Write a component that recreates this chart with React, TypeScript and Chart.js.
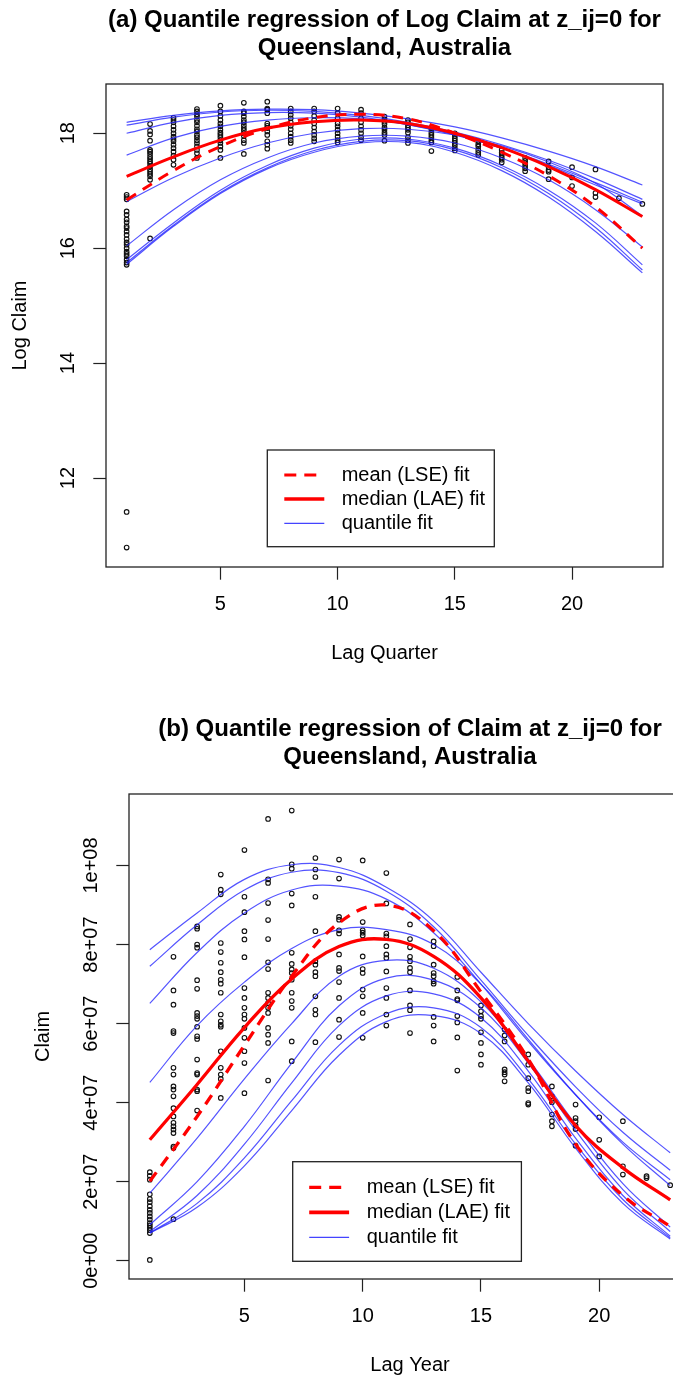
import React, { useEffect, useRef } from "react";
import { Chart, registerables } from "chart.js";

Chart.register(...registerables);

const FONT = "'Liberation Sans', Arial, Helvetica, sans-serif";
const RED = "#ff0000";
const BLUE = "rgba(35, 35, 255, 0.78)";

// ================= Panel (a): Log Claim vs Lag Quarter =================
const titleA = ["(a) Quantile regression of Log Claim at z_ij=0 for", "Queensland, Australia"];
const lagQuarterTicks = [5, 10, 15, 20];
const logClaimTicks = [12, 14, 16, 18];
const logClaimTickLabels = ["12", "14", "16", "18"];

// observed log claims, one list per lag quarter 1..23
const logClaimByLagQuarter: number[][] = [
  [16.93, 16.89, 16.85, 16.64, 16.58, 16.5, 16.45, 16.38, 16.35, 16.29, 16.23, 16.16, 16.1, 16.06, 16.0, 15.94, 15.9, 15.86, 15.8, 15.75, 15.71, 11.41, 10.79],
  [18.16, 18.04, 17.98, 17.87, 17.71, 17.68, 17.64, 17.59, 17.55, 17.51, 17.47, 17.42, 17.37, 17.33, 17.29, 17.25, 17.19, 16.17],
  [18.27, 18.23, 18.19, 18.12, 18.06, 18.0, 17.94, 17.9, 17.86, 17.8, 17.74, 17.68, 17.61, 17.54, 17.45],
  [18.42, 18.38, 18.33, 18.29, 18.23, 18.19, 18.13, 18.07, 18.03, 17.97, 17.93, 17.88, 17.83, 17.77, 17.71, 17.65, 17.57],
  [18.48, 18.38, 18.3, 18.23, 18.17, 18.12, 18.06, 18.01, 17.97, 17.93, 17.88, 17.83, 17.77, 17.71, 17.57],
  [18.53, 18.38, 18.35, 18.29, 18.23, 18.19, 18.14, 18.09, 18.05, 18.0, 17.95, 17.88, 17.83, 17.64],
  [18.55, 18.43, 18.41, 18.35, 18.17, 18.13, 18.09, 18.03, 17.97, 17.86, 17.8, 17.73],
  [18.43, 18.38, 18.32, 18.26, 18.19, 18.13, 18.07, 18.0, 17.94, 17.88, 17.83],
  [18.43, 18.38, 18.3, 18.23, 18.17, 18.1, 18.03, 17.97, 17.91, 17.86],
  [18.43, 18.35, 18.26, 18.17, 18.12, 18.06, 18.0, 17.94, 17.88, 17.84],
  [18.41, 18.35, 18.26, 18.19, 18.12, 18.06, 18.0, 17.93, 17.88],
  [18.29, 18.24, 18.2, 18.16, 18.1, 18.06, 18.01, 17.97, 17.87],
  [18.23, 18.19, 18.14, 18.1, 18.06, 18.01, 17.93, 17.88, 17.83],
  [18.1, 18.06, 18.01, 17.97, 17.93, 17.88, 17.84, 17.69],
  [18.0, 17.95, 17.91, 17.87, 17.83, 17.79, 17.74, 17.7],
  [17.86, 17.81, 17.77, 17.71, 17.66, 17.62],
  [17.71, 17.66, 17.62, 17.58, 17.54, 17.49],
  [17.57, 17.52, 17.48, 17.43, 17.39, 17.34],
  [17.51, 17.41, 17.36, 17.33, 17.2],
  [17.41, 17.23, 17.08],
  [17.37, 16.96, 16.89],
  [16.87],
  [16.77],
];

const fitLagQuarter = [1, 3, 5, 7, 9, 11, 13, 15, 17, 19, 21, 23];
const meanFitLogClaim = [16.84, 17.35, 17.77, 18.08, 18.27, 18.33, 18.25, 18.0, 17.67, 17.26, 16.72, 16.0];
const medianFitLogClaim = [17.25, 17.59, 17.88, 18.09, 18.2, 18.23, 18.17, 18.0, 17.75, 17.42, 17.02, 16.55];
const q10LogClaim = [15.72, 16.38, 16.95, 17.38, 17.67, 17.83, 17.84, 17.67, 17.35, 16.89, 16.29, 15.57];
const q20LogClaim = [15.75, 16.4, 16.97, 17.4, 17.7, 17.86, 17.87, 17.71, 17.4, 16.95, 16.36, 15.62];
const q30LogClaim = [15.8, 16.44, 17.01, 17.44, 17.74, 17.9, 17.9, 17.74, 17.44, 17.01, 16.44, 15.71];
const q40LogClaim = [16.04, 16.67, 17.19, 17.57, 17.83, 17.95, 17.95, 17.83, 17.57, 17.19, 16.67, 16.02];
const q50LogClaim = [16.81, 17.23, 17.57, 17.83, 18.0, 18.08, 18.07, 17.97, 17.78, 17.5, 17.13, 16.56];
const q60LogClaim = [17.62, 17.92, 18.12, 18.23, 18.27, 18.25, 18.15, 17.98, 17.74, 17.44, 17.1, 16.77];
const q70LogClaim = [18.0, 18.19, 18.31, 18.36, 18.35, 18.28, 18.15, 17.97, 17.74, 17.46, 17.14, 16.8];
const q80LogClaim = [18.14, 18.28, 18.37, 18.4, 18.38, 18.31, 18.19, 18.02, 17.8, 17.53, 17.21, 16.85];
const q90LogClaim = [18.19, 18.31, 18.39, 18.42, 18.41, 18.35, 18.25, 18.11, 17.92, 17.69, 17.42, 17.1];

// ================= Panel (b): Claim vs Lag Year =================
const titleB = ["(b) Quantile regression of Claim at z_ij=0 for", "Queensland, Australia"];
const lagYearTicks = [5, 10, 15, 20];
const claimTicks = [0, 2e7, 4e7, 6e7, 8e7, 1e8];
const claimTickLabels = ["0e+00", "2e+07", "4e+07", "6e+07", "8e+07", "1e+08"];
const MILLION = 1e6;

// observed claims in millions, one list per lag year 1..23
const claimMillionsByLagYear: number[][] = [
  [22.4, 21.5, 20.5, 16.8, 15.6, 14.8, 13.8, 12.9, 12.1, 11.2, 10.4, 9.5, 8.9, 8.3, 7.7, 7.0, 0.2],
  [76.9, 68.4, 64.8, 58.1, 57.6, 48.8, 47.1, 44.1, 43.3, 41.6, 38.6, 36.5, 34.9, 34.0, 33.2, 32.3, 28.9, 28.5, 10.5],
  [84.6, 84.0, 80.0, 79.2, 71.0, 68.8, 62.7, 61.9, 61.2, 59.2, 56.8, 56.1, 50.9, 47.5, 47.1, 43.3, 42.9, 38.0],
  [97.7, 93.9, 92.7, 80.4, 78.1, 75.4, 73.0, 71.1, 70.1, 67.8, 62.3, 60.6, 59.7, 59.2, 53.0, 48.8, 47.1, 46.0, 41.2],
  [103.9, 92.1, 88.2, 83.4, 81.3, 76.8, 69.0, 66.5, 64.0, 62.3, 61.2, 58.9, 56.4, 53.0, 50.0, 42.4],
  [111.8, 96.5, 95.6, 90.5, 86.2, 81.4, 75.5, 73.8, 67.8, 66.5, 65.2, 64.0, 62.7, 58.9, 57.2, 55.1, 45.6],
  [113.9, 100.3, 99.2, 92.9, 89.9, 77.9, 75.1, 73.7, 72.8, 71.1, 67.8, 65.7, 64.0, 55.5, 50.5],
  [101.9, 99.0, 97.1, 92.1, 83.4, 75.8, 74.9, 73.0, 72.0, 66.9, 63.5, 62.3, 55.3],
  [101.5, 96.7, 87.0, 86.3, 83.6, 82.8, 77.5, 74.1, 73.3, 70.5, 66.5, 61.0, 56.6],
  [101.3, 85.7, 83.6, 83.0, 82.3, 77.0, 73.8, 72.8, 68.6, 66.9, 62.7, 56.4],
  [98.1, 90.4, 82.8, 82.1, 79.6, 77.5, 76.6, 73.2, 69.0, 66.5, 62.3, 59.5],
  [85.1, 81.4, 79.3, 76.9, 75.8, 74.1, 73.0, 68.4, 64.6, 63.4, 57.6],
  [80.8, 79.6, 74.9, 72.8, 72.0, 70.7, 70.1, 61.7, 59.5, 55.5],
  [71.8, 68.4, 66.2, 65.9, 61.9, 60.3, 56.5, 48.1],
  [64.6, 63.1, 61.9, 61.2, 57.8, 55.1, 52.2, 49.6],
  [58.5, 57.0, 55.5, 48.4, 47.7, 47.1, 45.4],
  [52.2, 49.6, 46.2, 43.7, 42.9, 39.9, 39.5],
  [44.1, 41.6, 40.1, 37.0, 35.3, 34.0],
  [39.5, 36.1, 35.3, 34.2, 33.3, 29.1],
  [36.3, 30.6, 26.4],
  [35.3, 23.9, 21.8],
  [21.4, 20.9],
  [19.1],
];

const fitLagYear = [1, 3, 5, 7, 9, 11, 13, 15, 17, 19, 21, 23];
const meanFitClaimM = [20.1, 36.5, 54.5, 72.0, 85.5, 90.0, 83.5, 68.0, 51.0, 29.5, 16.5, 8.7];
const medianFitClaimM = [30.6, 44.6, 59.0, 71.3, 79.5, 81.3, 77.0, 66.5, 50.5, 34.2, 23.5, 15.4];
const q10ClaimM = [7.0, 13.5, 24.0, 38.0, 52.0, 60.5, 62.0, 57.5, 45.0, 28.5, 14.5, 5.5];
const q20ClaimM = [7.0, 14.5, 26.0, 40.5, 54.5, 62.5, 64.0, 59.0, 46.0, 29.5, 15.5, 5.8];
const q30ClaimM = [7.4, 16.5, 29.5, 45.0, 59.5, 67.0, 67.5, 61.5, 48.0, 31.0, 16.5, 6.2];
const q40ClaimM = [9.1, 20.0, 34.0, 50.0, 64.5, 71.5, 71.0, 64.0, 50.0, 33.0, 18.0, 7.4];
const q50ClaimM = [17.1, 31.0, 46.0, 60.0, 72.0, 76.0, 74.0, 65.5, 51.0, 34.5, 19.5, 8.5];
const q60ClaimM = [45.1, 59.5, 70.5, 79.0, 83.8, 83.8, 80.0, 70.0, 56.0, 42.0, 29.5, 19.0];
const q70ClaimM = [65.1, 78.0, 88.0, 93.8, 94.8, 91.5, 83.0, 70.0, 55.5, 42.0, 30.0, 20.5];
const q80ClaimM = [74.5, 85.0, 93.8, 98.3, 98.2, 93.5, 84.5, 71.0, 57.0, 44.0, 32.5, 22.9];
const q90ClaimM = [78.7, 88.0, 96.5, 100.2, 99.5, 94.5, 86.0, 73.0, 60.0, 48.0, 37.0, 27.3];

const legendLabels = ["mean (LSE) fit", "median (LAE) fit", "quantile fit"];

type Spec = {
  width: number;
  height: number;
  title: string[];
  titlePad: { top: number; bottom: number };
  xTitle: string;
  yTitle: string;
  xTicks: number[];
  yTicks: number[];
  yTickLabels: string[];
  xMin: number;
  xMax: number;
  yMin: number;
  yMax: number;
  yAxisWidth: number;
  xAxisHeight: number;
  padRight: number;
  yTickPad: number;
  yTitlePad: number;
  xTitlePadBottom: number;
  unit: number;
  columns: number[][];
  fitX: number[];
  mean: number[];
  median: number[];
  quantiles: number[][];
  redWidth: number;
  legend: { dx: number; dy: number; w: number; h: number; rows: number[]; lx0: number; lx1: number; tx: number };
};

const specA: Spec = {
  width: 673,
  height: 690,
  title: titleA,
  titlePad: { top: 7, bottom: 22 },
  xTitle: "Lag Quarter",
  yTitle: "Log Claim",
  xTicks: lagQuarterTicks,
  yTicks: logClaimTicks,
  yTickLabels: logClaimTickLabels,
  xMin: 0.12,
  xMax: 23.88,
  yMin: 10.452,
  yMax: 18.857,
  yAxisWidth: 106,
  xAxisHeight: 123,
  padRight: 10,
  yTickPad: 13.7,
  yTitlePad: 8,
  xTitlePadBottom: 25,
  unit: 1,
  columns: logClaimByLagQuarter,
  fitX: fitLagQuarter,
  mean: meanFitLogClaim,
  median: medianFitLogClaim,
  quantiles: [q10LogClaim, q20LogClaim, q30LogClaim, q40LogClaim, q50LogClaim, q60LogClaim, q70LogClaim, q80LogClaim, q90LogClaim],
  redWidth: 3,
  legend: { dx: 161.3, dy: 366, w: 227, h: 96.7, rows: [25, 49, 73.3], lx0: 17, lx1: 57, tx: 74.4 },
};

const specB: Spec = {
  width: 700,
  height: 693,
  title: titleB,
  titlePad: { top: 26, bottom: 23 },
  xTitle: "Lag Year",
  yTitle: "Claim",
  xTicks: lagYearTicks,
  yTicks: claimTicks,
  yTickLabels: claimTickLabels,
  xMin: 0.12,
  xMax: 23.88,
  yMin: -4.63e6,
  yMax: 1.181e8,
  yAxisWidth: 129,
  xAxisHeight: 104,
  padRight: 9,
  yTickPad: -3.3,
  yTitlePad: 31,
  xTitlePadBottom: 6,
  unit: MILLION,
  columns: claimMillionsByLagYear,
  fitX: fitLagYear,
  mean: meanFitClaimM,
  median: medianFitClaimM,
  quantiles: [q10ClaimM, q20ClaimM, q30ClaimM, q40ClaimM, q50ClaimM, q60ClaimM, q70ClaimM, q80ClaimM, q90ClaimM],
  redWidth: 3.3,
  legend: { dx: 163.7, dy: 367.7, w: 228.7, h: 99.6, rows: [25.6, 50.6, 75.6], lx0: 16.5, lx1: 56.4, tx: 74 },
};

const rFramePlugin = {
  id: "rFrame",
  afterDraw(chart: any, _args: any, opts: any) {
    const { ctx, chartArea: a } = chart;
    const s: Spec = opts.spec;
    ctx.save();
    ctx.setLineDash([]);
    ctx.strokeStyle = "#222";
    ctx.lineWidth = 1.3;
    ctx.strokeRect(a.left, a.top, a.right - a.left, a.bottom - a.top);
    const lg = s.legend;
    const x0 = a.left + lg.dx;
    const y0 = a.top + lg.dy;
    ctx.fillStyle = "#fff";
    ctx.fillRect(x0, y0, lg.w, lg.h);
    ctx.strokeRect(x0, y0, lg.w, lg.h);
    const styles = [
      { color: RED, width: s.redWidth, dash: [12, 8] },
      { color: RED, width: s.redWidth + 0.5, dash: [] as number[] },
      { color: "rgba(35,35,255,0.85)", width: 1.2, dash: [] as number[] },
    ];
    legendLabels.forEach((label, i) => {
      const y = y0 + lg.rows[i];
      const st = styles[i];
      ctx.beginPath();
      ctx.strokeStyle = st.color;
      ctx.lineWidth = st.width;
      ctx.setLineDash(st.dash);
      ctx.moveTo(x0 + lg.lx0, y);
      ctx.lineTo(x0 + lg.lx1, y);
      ctx.stroke();
      ctx.setLineDash([]);
      ctx.fillStyle = "#000";
      ctx.font = `20px ${FONT}`;
      ctx.textAlign = "left";
      ctx.textBaseline = "middle";
      ctx.fillText(label, x0 + lg.tx, y);
    });
    ctx.restore();
  },
};

function makeConfig(s: Spec): any {
  const points: { x: number; y: number }[] = [];
  s.columns.forEach((col, i) => col.forEach((v) => points.push({ x: i + 1, y: v * s.unit })));
  const curve = (arr: number[]) => arr.map((v, i) => ({ x: s.fitX[i], y: v * s.unit }));
  const datasets: any[] = [
    {
      label: "observed",
      data: points,
      showLine: false,
      pointRadius: 2.3,
      pointBorderWidth: 1.1,
      pointBorderColor: "#111",
      pointBackgroundColor: "rgba(0,0,0,0)",
      order: 10,
    },
    ...s.quantiles.map((q, k) => ({
      label: `quantile ${(k + 1) * 10}%`,
      data: curve(q),
      showLine: true,
      borderColor: BLUE,
      borderWidth: 1.2,
      pointRadius: 0,
      tension: 0.4,
      fill: false,
      order: 5,
    })),
    {
      label: legendLabels[1],
      data: curve(s.median),
      showLine: true,
      borderColor: RED,
      borderWidth: s.redWidth,
      pointRadius: 0,
      tension: 0.4,
      fill: false,
      order: 2,
    },
    {
      label: legendLabels[0],
      data: curve(s.mean),
      showLine: true,
      borderColor: RED,
      borderWidth: s.redWidth,
      borderDash: [11, 8],
      pointRadius: 0,
      tension: 0.4,
      fill: false,
      order: 1,
    },
  ];
  const gridOpts = {
    display: true,
    drawOnChartArea: false,
    drawTicks: true,
    tickLength: 12.7,
    tickWidth: 1.2,
    tickColor: "#222",
    color: "#222",
  };
  return {
    type: "scatter",
    data: { datasets },
    plugins: [rFramePlugin],
    options: {
      responsive: false,
      devicePixelRatio: 1,
      animation: false,
      events: [],
      layout: { padding: { left: 0, right: s.padRight, top: 0, bottom: 0 } },
      plugins: {
        legend: { display: false },
        tooltip: { enabled: false },
        title: {
          display: true,
          text: s.title,
          fullSize: false,
          color: "#000",
          font: { family: FONT, size: 24, weight: "bold", lineHeight: 27.5 / 24 },
          padding: s.titlePad,
        },
        rFrame: { spec: s },
      },
      scales: {
        x: {
          type: "linear",
          position: "bottom",
          min: s.xMin,
          max: s.xMax,
          afterBuildTicks: (sc: any) => {
            sc.ticks = s.xTicks.map((v) => ({ value: v }));
          },
          afterFit: (sc: any) => {
            sc.height = s.xAxisHeight;
          },
          grid: gridOpts,
          border: { display: false },
          ticks: {
            color: "#000",
            font: { family: FONT, size: 20 },
            padding: 12.8,
            minRotation: 0,
            maxRotation: 0,
            autoSkip: false,
            callback: (v: number) => String(v),
          },
          title: {
            display: true,
            text: s.xTitle,
            color: "#000",
            font: { family: FONT, size: 20, lineHeight: 1.2 },
            padding: { top: 0, bottom: s.xTitlePadBottom },
          },
        },
        y: {
          type: "linear",
          position: "left",
          min: s.yMin,
          max: s.yMax,
          afterBuildTicks: (sc: any) => {
            sc.ticks = s.yTicks.map((v) => ({ value: v }));
          },
          afterFit: (sc: any) => {
            sc.width = s.yAxisWidth;
          },
          grid: gridOpts,
          border: { display: false },
          ticks: {
            color: "#000",
            font: { family: FONT, size: 20 },
            padding: s.yTickPad,
            minRotation: 90,
            maxRotation: 90,
            crossAlign: "center",
            autoSkip: false,
            callback: (_v: number, i: number) => s.yTickLabels[i],
          },
          title: {
            display: true,
            text: s.yTitle,
            color: "#000",
            font: { family: FONT, size: 20, lineHeight: 1.2 },
            padding: { top: s.yTitlePad, bottom: 0 },
          },
        },
      },
    },
  };
}

function Panel({ spec, top }: { spec: Spec; top: number }) {
  const ref = useRef<HTMLCanvasElement>(null);
  useEffect(() => {
    if (!ref.current) return;
    const chart = new Chart(ref.current, makeConfig(spec));
    return () => chart.destroy();
  }, [spec]);
  return (
    <canvas
      ref={ref}
      width={spec.width}
      height={spec.height}
      style={{ position: "absolute", left: 0, top, width: spec.width, height: spec.height, display: "block" }}
    />
  );
}

export default function App() {
  return (
    <div
      style={{
        position: "absolute",
        left: 0,
        top: 0,
        width: 673,
        height: 1383,
        overflow: "hidden",
        background: "#fff",
      }}
    >
      <Panel spec={specA} top={0} />
      <Panel spec={specB} top={690} />
    </div>
  );
}
